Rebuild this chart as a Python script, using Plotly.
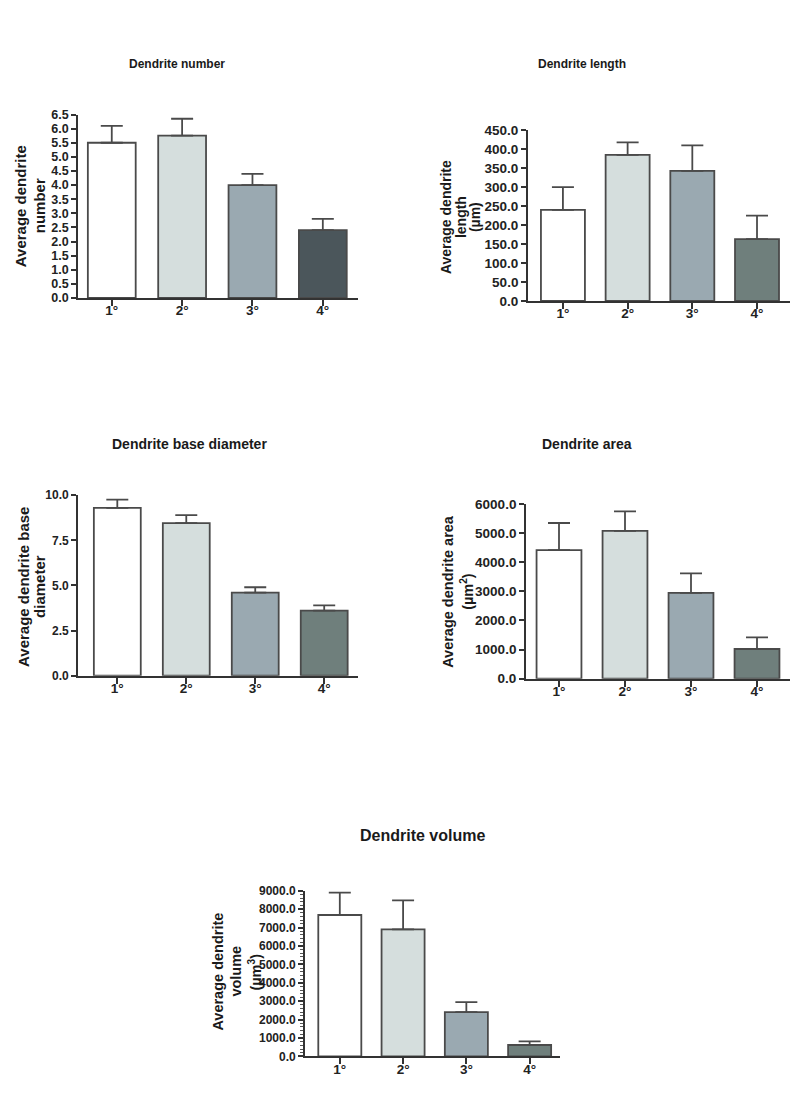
import plotly.graph_objects as go

W, H = 800, 1094

categories = ["1°", "2°", "3°", "4°"]

number_mean = [5.5, 5.75, 4.0, 2.4]
number_top = [6.1, 6.35, 4.4, 2.8]

length_mean = [240.0, 385.0, 343.0, 163.0]
length_top = [300.0, 418.0, 410.0, 225.0]

diameter_mean = [9.3, 8.45, 4.6, 3.6]
diameter_top = [9.75, 8.9, 4.9, 3.9]

area_mean = [4420.0, 5080.0, 2950.0, 1020.0]
area_top = [5350.0, 5750.0, 3620.0, 1420.0]

volume_mean = [7680.0, 6900.0, 2400.0, 620.0]
volume_top = [8900.0, 8480.0, 2950.0, 820.0]

colors_a = ["#ffffff", "#d5dedd", "#9aa9b1", "#4b565b"]
colors_b = ["#ffffff", "#d5dedd", "#9aa9b1", "#6f7f7c"]

FONT = "Liberation Sans"
EDGE = "#4a4a4a"

panels = [
    dict(m=number_mean, t=number_top, c=colors_a, title="Dendrite number", tsize=12,
         yt=["Average dendrite", "number"], ytx=[20, 39], yty=202, ytsize=15,
         px=(78, 358), py=(109, 295), ymax=6.5, dtick=0.5,
         xr=(-0.48, 3.5), tpos=(177, 58), minor=False, tick=12.5),
    dict(m=length_mean, t=length_top, c=colors_b, title="Dendrite length", tsize=12,
         yt=["Average dendrite", "length", "(µm)"], ytx=[446, 461, 475], yty=213, ytsize=14,
         px=(528, 790), py=(125, 298), ymax=450, dtick=50,
         xr=(-0.54, 3.51), tpos=(582, 58), minor=False, tick=13.5),
    dict(m=diameter_mean, t=diameter_top, c=colors_b, title="Dendrite base diameter", tsize=14,
         yt=["Average dendrite base", "diameter"], ytx=[24, 40], yty=588, ytsize=15,
         px=(78, 358), py=(495, 678), ymax=10, dtick=2.5,
         xr=(-0.57, 3.49), tpos=(189, 443), minor=False, tick=12),
    dict(m=area_mean, t=area_top, c=colors_b, title="Dendrite area", tsize=14,
         yt=["Average dendrite area", "(µm<sup>2</sup>)"], ytx=[448, 467], yty=593, ytsize=14.5,
         px=(526, 790), py=(504, 681), ymax=6000, dtick=1000,
         xr=(-0.5, 3.5), tpos=(587, 443), minor=False, tick=13.5),
    dict(m=volume_mean, t=volume_top, c=colors_b, title="Dendrite volume", tsize=16,
         yt=["Average dendrite", "volume", "(µm<sup>3</sup>)"], ytx=[218, 236, 255], yty=978, ytsize=14.5,
         px=(305, 560), py=(896, 1064), ymax=9000, dtick=1000,
         xr=(-0.55, 3.48), tpos=(422, 840), minor=True, tick=12),
]

fig = go.Figure()
annotations = []

for i, p in enumerate(panels, start=1):
    xa = "x" if i == 1 else f"x{i}"
    ya = "y" if i == 1 else f"y{i}"
    err = [t - m for t, m in zip(p["t"], p["m"])]
    fig.add_trace(go.Bar(
        x=categories, y=p["m"], xaxis=xa, yaxis=ya,
        marker=dict(color=p["c"], line=dict(color=EDGE, width=1.8)),
        width=0.68,
        error_y=dict(type="data", symmetric=False, array=err, arrayminus=[0] * 4,
                     color=EDGE, thickness=1.8, width=11),
        showlegend=False, hoverinfo="skip",
    ))
    xdom = [p["px"][0] / W, p["px"][1] / W]
    ydom = [1 - p["py"][1] / H, 1 - p["py"][0] / H]
    xkey = "xaxis" if i == 1 else f"xaxis{i}"
    ykey = "yaxis" if i == 1 else f"yaxis{i}"
    yax = dict(domain=ydom, anchor=xa, range=[0, p["ymax"]], dtick=p["dtick"], tick0=0,
               tickformat=".1f", showline=True, linecolor="#333333", linewidth=1.8,
               ticks="outside", ticklen=5, tickwidth=1.5, tickcolor="#333333",
               tickfont=dict(family=FONT, size=p["tick"], color="#222222", weight="bold"),
               showgrid=False, zeroline=False, fixedrange=True)
    if p["minor"]:
        yax["minor"] = dict(ticks="outside", ticklen=3, dtick=200, tickcolor="#555555", tickwidth=1)
    fig.update_layout(**{
        xkey: dict(domain=xdom, anchor=ya, range=list(p["xr"]), type="category",
                   showline=True, linecolor="#333333", linewidth=1.8,
                   ticks="outside", ticklen=6, tickwidth=1.5, tickcolor="#333333",
                   ticklabelstandoff=-7,
                   tickfont=dict(family=FONT, size=13.5, color="#222222", weight="bold"),
                   showgrid=False, zeroline=False, fixedrange=True),
        ykey: yax,
    })
    annotations.append(dict(
        text=f"<b>{p['title']}</b>", x=p["tpos"][0] / W, y=1 - p["tpos"][1] / H,
        xref="paper", yref="paper", xanchor="center", yanchor="middle", showarrow=False,
        font=dict(family=FONT, size=p["tsize"], color="#1a1a1a"),
    ))
    for line, lx in zip(p["yt"], p["ytx"]):
        annotations.append(dict(
            text=f"<b>{line}</b>", x=lx / W, y=1 - p["yty"] / H,
            xref="paper", yref="paper", xanchor="center", yanchor="middle", showarrow=False,
            textangle=-90, font=dict(family=FONT, size=p["ytsize"], color="#1a1a1a"),
        ))

fig.update_layout(
    width=W, height=H, margin=dict(l=0, r=0, t=0, b=0),
    paper_bgcolor="white", plot_bgcolor="white",
    annotations=annotations,
    font=dict(family=FONT, color="#222222"),
)

fig.write_html("out.html", config={"displayModeBar": False},
               post_script="document.body.style.margin='0';")
